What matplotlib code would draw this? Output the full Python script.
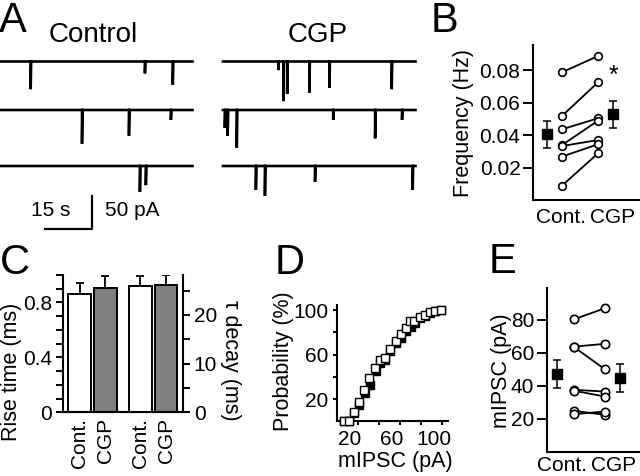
import matplotlib
matplotlib.use('Agg')
import matplotlib.pyplot as plt
from matplotlib.transforms import ScaledTranslation

plt.rcParams['font.family'] = ['Liberation Sans', 'DejaVu Sans']
plt.rcParams['font.size'] = 15
plt.rcParams['axes.linewidth'] = 1.5
plt.rcParams['xtick.major.width'] = 1.4
plt.rcParams['ytick.major.width'] = 1.4
plt.rcParams['xtick.minor.width'] = 1.4
plt.rcParams['ytick.minor.width'] = 1.4

W, H = 640, 476
fig = plt.figure(figsize=(6.4, 4.76), dpi=100)


def rect(l, t, r, b):
    return [l / W, 1 - b / H, (r - l) / W, (b - t) / H]


def fx(px):
    return px / W


def fy(py):
    return 1 - py / H


# ---------------- data ----------------
# Panel A: mIPSC events (time in s within sweep, amplitude in pA)
sweep_len = 61.5
ctrl_times = [[9.8, 46.3, 55.2], [26.2, 41.2, 54.6], [44.7, 46.6]]
ctrl_amps = [[42, 18, 35], [51, 39, 15], [39, 29]]
cgp_times = [[17.7, 19.3, 20.5, 27.6, 34.0, 53.9],
             [0.6, 1.5, 4.4, 35.2, 48.6, 57.2],
             [10.5, 13.4, 29.4, 60.6]]
cgp_amps = [[13, 60, 49, 47, 40, 42],
            [27, 39, 57, 15, 43, 15],
            [36, 45, 24, 36]]
scale_time = 15   # s
scale_amp = 50    # pA

# Panel B: frequency (Hz)
freq_cont = [0.0786, 0.0517, 0.0435, 0.0338, 0.0332, 0.0267, 0.0088]
freq_cgp = [0.0886, 0.0724, 0.0503, 0.0488, 0.0369, 0.0343, 0.0287]
freq_mean = [0.0404, 0.0527]
freq_sem = [0.0082, 0.0083]

# Panel C: kinetics
rise_mean = [0.863, 0.907]       # ms
rise_err = [0.080, 0.083]
decay_mean = [26.0, 26.1]        # ms
decay_err = [2.05, 2.10]

# Panel D: cumulative probability (%)
cum_x_cgp = [7, 12, 16, 21, 26, 31, 36, 41, 46, 51, 56, 61, 66, 70, 74, 79, 84, 89, 94, 99]
cum_y_cgp = [0, 0, 8, 17, 28, 39, 48, 55, 57, 65, 72, 78, 84, 90, 90.5, 93.5, 95.5, 98, 99.4, 100]
cum_x_ctrl = [7, 12, 16, 21, 27, 32, 37, 41, 46, 51, 56, 61, 66, 71, 75, 79, 84, 89, 94, 99]
cum_y_ctrl = [0, 0, 7, 15, 25, 33, 45, 52, 55, 63, 70, 75, 81, 85, 88, 92.5, 95, 97.5, 99.4, 100]

# Panel E: amplitude (pA)
amp_cont = [80.4, 63.8, 63.5, 37.6, 37.0, 24.8, 22.8]
amp_cgp = [87.1, 65.5, 50.1, 36.5, 33.5, 22.4, 24.4]
amp_mean = [47.1, 44.6]
amp_sem = [8.3, 8.4]

group_labels = ['Cont.', 'CGP']
bar_labels = ['Cont.', 'CGP', 'Cont.', 'CGP']

# ---------------- Panel A ----------------
axA = fig.add_axes(rect(0, 40, 420, 240))
sec_px, pa_px = 3.13, 0.66
axA.set_xlim(0, 420 / sec_px)
axA.set_ylim(-200 / pa_px, 0)
axA.axis('off')
row_base = [-(61.5 - 40) / pa_px, -(110 - 40) / pa_px, -(166 - 40) / pa_px]
cgp_offset = 223 / sec_px


def draw_trace(ax, x0, base, times, amps):
    xs, ys = [x0], [base]
    for t, a in sorted(zip(times, amps)):
        xs += [x0 + t, x0 + t, x0 + t + 0.15]
        ys += [base, base - a, base]
    xs.append(x0 + sweep_len)
    ys.append(base)
    ax.plot(xs, ys, color='black', lw=1.9, solid_joinstyle='miter')


for i in range(3):
    draw_trace(axA, 0, row_base[i], ctrl_times[i], ctrl_amps[i])
    draw_trace(axA, cgp_offset, row_base[i], cgp_times[i], cgp_amps[i])

sb_y = -(229 - 40) / pa_px
sb_x1 = 92 / sec_px
axA.plot([sb_x1 - scale_time, sb_x1, sb_x1], [sb_y, sb_y, sb_y + scale_amp],
         color='black', lw=1.6)
axA.text(51 / sec_px, -(210 - 40) / pa_px, f'{scale_time} s', ha='center', va='center', fontsize=15)
axA.text(132 / sec_px, -(210 - 40) / pa_px, f'{scale_amp} pA', ha='center', va='center', fontsize=15)

fig.text(fx(93), fy(35), 'Control', ha='center', va='center', fontsize=20)
fig.text(fx(318), fy(35), 'CGP', ha='center', va='center', fontsize=20)

# ---------------- Panel B ----------------
axB = fig.add_axes(rect(533, 45, 640, 200))
xb = [0, 1, 3.4, 4.4]
for c, g in zip(freq_cont, freq_cgp):
    axB.plot([xb[1], xb[2]], [c, g], color='black', lw=1.3, marker='o', ms=5.5,
             mfc='white', mec='black', mew=1.2, zorder=3)
axB.errorbar([xb[0], xb[3]], freq_mean, yerr=freq_sem, fmt='s', color='black',
             ms=6.5, capsize=3, elinewidth=1.1, capthick=1.1, zorder=4)
axB.text(xb[3], 0.0765, '*', ha='center', va='center', fontsize=18)
axB.set_xlim(-0.93, 6.2)
axB.set_ylim(0, 0.0954)
axB.set_yticks([0.02, 0.04, 0.06, 0.08])
axB.set_yticklabels(['0.02', '0.04', '0.06', '0.08'])
axB.set_xticks([0.95, 4.4])
axB.set_xticklabels(group_labels)
axB.tick_params(axis='x', length=0, pad=6)
axB.tick_params(axis='y', length=7, pad=2)
for s in ['top', 'right']:
    axB.spines[s].set_visible(False)
fig.text(fx(463), fy(123), 'Frequency (Hz)', rotation=90, ha='center', va='center', fontsize=15.5)

# ---------------- Panel C ----------------
axC = fig.add_axes(rect(63.3, 275, 182.7, 412.3))
axC2 = axC.twinx()
xc = [0, 1, 2.37, 3.37]
bw = 0.88
axC.bar(xc[:2], rise_mean, width=bw, color=['white', '#808080'], edgecolor='black', lw=1.4, zorder=2)
axC.errorbar(xc[:2], rise_mean, yerr=[[0, 0], rise_err], fmt='none', ecolor='black',
             capsize=3, elinewidth=1.3, capthick=1.3, zorder=1)
axC2.bar(xc[2:], decay_mean, width=bw, color=['white', '#808080'], edgecolor='black', lw=1.4, zorder=2)
axC2.errorbar(xc[2:], decay_mean, yerr=[[0, 0], decay_err], fmt='none', ecolor='black',
              capsize=3, elinewidth=1.3, capthick=1.3, zorder=1)
axC.set_xlim(-0.64, 4.02)
axC.set_ylim(0, 1.0)
axC2.set_ylim(0, 28.2)
axC.set_yticks([0, 0.4, 0.8])
axC.set_yticklabels(['0', '0.4', '0.8'])
axC.set_yticks([0.1, 0.2, 0.3, 0.5, 0.6, 0.7, 0.9, 1.0], minor=True)
axC2.set_yticks([0, 10, 20])
axC2.set_yticks([5, 15, 25], minor=True)
axC.tick_params(axis='y', which='both', length=5, pad=3)
axC2.tick_params(axis='y', which='both', length=5, pad=3)
axC.set_xticks(xc)
axC.set_xticklabels(bar_labels, rotation=90)
axC.tick_params(axis='x', length=0, pad=4)
axC.spines['top'].set_visible(False)
axC2.spines['top'].set_visible(False)
axC2.spines['left'].set_visible(False)
axC.spines['right'].set_visible(False)
fig.text(fx(12), fy(372), 'Rise time (ms)', rotation=90, ha='center', va='center', fontsize=15.5)
fig.text(fx(230), fy(360), 'τ decay (ms)', rotation=270, ha='center', va='center', fontsize=15.5)

# ---------------- Panel D ----------------
axD = fig.add_axes(rect(336.7, 305, 448, 421.25))
axD.plot(cum_x_ctrl, cum_y_ctrl, ls='none', marker='s', ms=6, mfc='black', mec='black', mew=1.0, zorder=2,
         clip_on=False)
axD.plot(cum_x_cgp, cum_y_cgp, ls='none', marker='s', ms=6, mfc='white', mec='black', mew=1.0, zorder=3,
         clip_on=False)
axD.set_xlim(0, 106)
axD.set_ylim(0, 104.5)
axD.set_xticks([20, 40, 60, 80, 100])
axD.set_xticklabels(['20', '', '60', '', '100'])
axD.set_yticks([20, 40, 60, 80, 100])
axD.set_yticklabels(['20', '', '60', '', '100'])
axD.tick_params(axis='both', length=3, pad=3)
off = ScaledTranslation(-8 / 100, 0, fig.dpi_scale_trans)
for lab in axD.get_xticklabels():
    lab.set_transform(lab.get_transform() + off)
for s in ['top', 'right']:
    axD.spines[s].set_visible(False)
fig.text(fx(283), fy(361), 'Probability (%)', rotation=90, ha='center', va='center', fontsize=15.5)
fig.text(fx(395), fy(462), 'mIPSC (pA)', ha='center', va='center', fontsize=15.5)

# ---------------- Panel E ----------------
axE = fig.add_axes(rect(546.7, 288, 640, 451.7))
xe = [0, 1.1, 3.1, 4.1]
for c, g in zip(amp_cont, amp_cgp):
    axE.plot([xe[1], xe[2]], [c, g], color='black', lw=1.3, marker='o', ms=6,
             mfc='white', mec='black', mew=1.2, zorder=3)
axE.errorbar([xe[0], xe[3]], amp_mean, yerr=amp_sem, fmt='s', color='black',
             ms=6.5, capsize=3, elinewidth=1.1, capthick=1.1, zorder=4)
axE.set_xlim(-0.69, 5.4)
axE.set_ylim(0, 99.4)
axE.set_yticks([20, 40, 60, 80])
axE.set_xticks([0.34, 3.67])
axE.set_xticklabels(group_labels)
axE.tick_params(axis='x', length=0, pad=3)
axE.tick_params(axis='y', length=7, pad=2)
for s in ['top', 'right']:
    axE.spines[s].set_visible(False)
fig.text(fx(502), fy(371), 'mIPSC (pA)', rotation=90, ha='center', va='center', fontsize=15.5)

# ---------------- panel letters ----------------
for letter, (px, py) in {'A': (-1, 1), 'B': (431, 1), 'C': (0, 243), 'D': (275, 243), 'E': (489, 242)}.items():
    fig.text(fx(px), fy(py), letter, ha='left', va='top', fontsize=30)

fig.savefig('out.png', dpi=100)
